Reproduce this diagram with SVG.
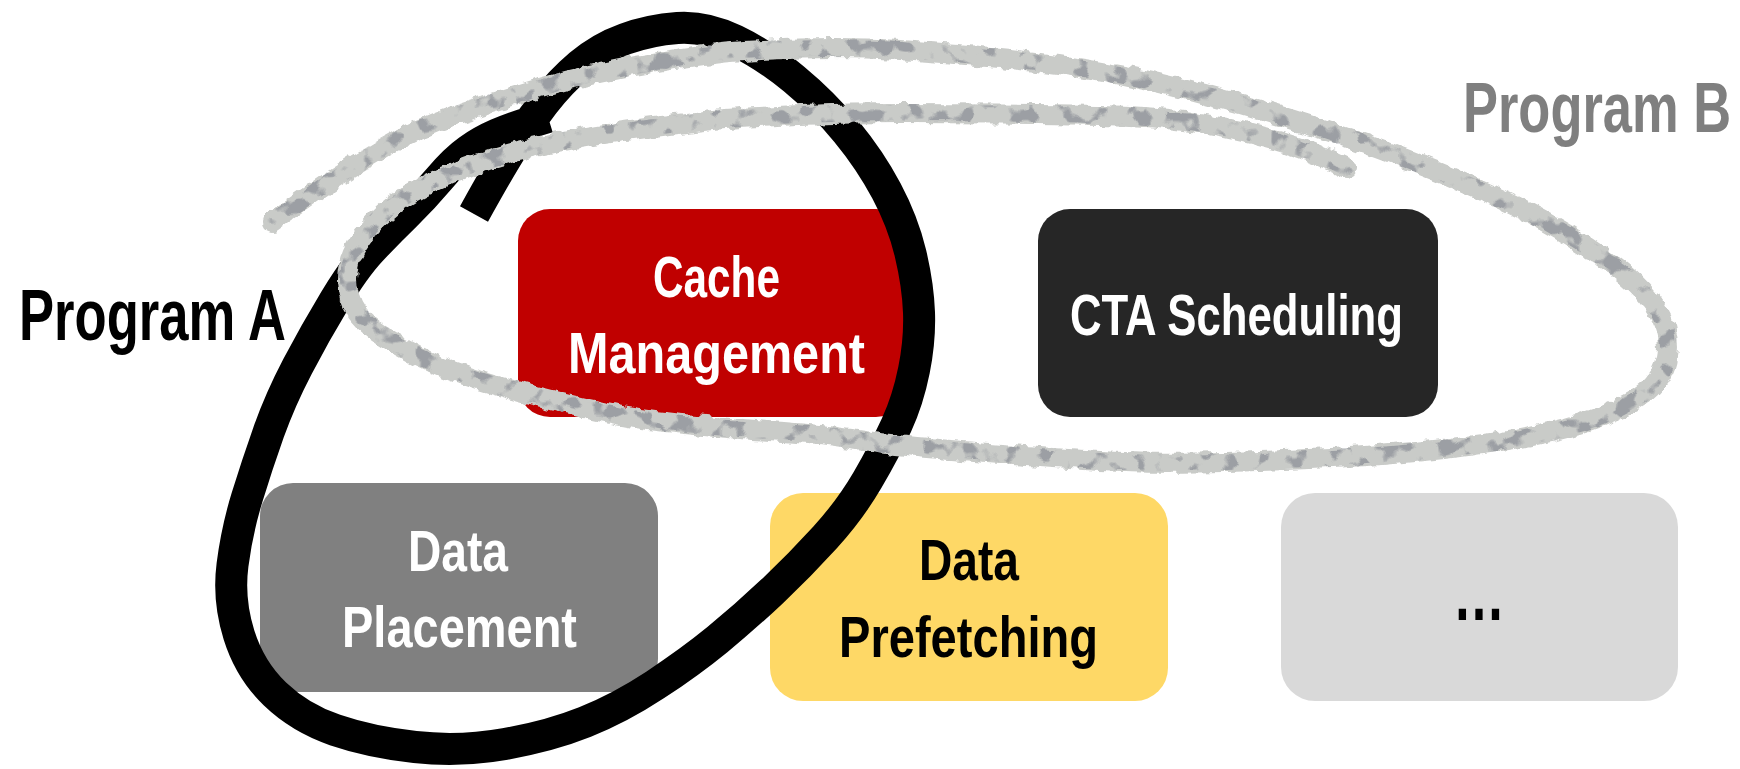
<svg xmlns="http://www.w3.org/2000/svg" width="1740" height="769" viewBox="0 0 1740 769">
<style>
.lbl{font-family:"Liberation Sans",Arial,sans-serif;font-weight:bold;}
.box{font-size:58px;}
.w{fill:#ffffff;}
.k{fill:#000000;}
</style>
<defs>
<filter id="rough" x="-5%" y="-10%" width="110%" height="120%">
<feTurbulence type="fractalNoise" baseFrequency="0.1" numOctaves="2" seed="3" result="n"/>
<feDisplacementMap in="SourceGraphic" in2="n" scale="8" xChannelSelector="R" yChannelSelector="G"/>
</filter>
<filter id="mottle" x="-5%" y="-10%" width="110%" height="120%">
<feTurbulence type="fractalNoise" baseFrequency="0.055" numOctaves="2" seed="11" result="n"/>
<feColorMatrix in="n" type="matrix" values="0 0 0 0 0  0 0 0 0 0  0 0 0 0 0  9 0 0 0 -4.8" result="m"/>
<feComposite in="SourceGraphic" in2="m" operator="in" result="c"/>
<feTurbulence type="fractalNoise" baseFrequency="0.13" numOctaves="1" seed="5" result="n2"/>
<feDisplacementMap in="c" in2="n2" scale="7" xChannelSelector="R" yChannelSelector="G"/>
</filter>
<path id="gpath" d="M272,222 Q310,195 330,181.5 Q350,168 383.5,148 Q417,128 458.5,114 Q500,100 533.5,90 Q567,80 600,73 Q633,66 666.5,60.5 Q700,55 725,52.5 Q750,50 800,48.5 Q850,47 900,50 Q950,53 1000,58 Q1050,63 1100,71.5 Q1150,80 1206.5,95 Q1263,110 1320,128.5 Q1377,147 1433.5,170 Q1490,193 1528,212.5 Q1566,232 1604,258.5 Q1642,285 1657,310 Q1672,335 1666.5,360 Q1661,385 1632.5,401.5 Q1604,418 1566,428 Q1528,438 1471.5,445.5 Q1415,453 1358,456.5 Q1301,460 1225.5,462 Q1150,464 1100,461 Q1050,458 1000,454 Q950,450 916.5,447 Q883,444 850,439 Q817,434 783.5,432 Q750,430 700,425.5 Q650,421 625,416.5 Q600,412 558.5,402 Q517,392 475,379 Q433,366 400,346.5 Q367,327 357,312.5 Q347,298 347,280 Q347,262 357,245 Q367,228 383.5,213 Q400,198 425,185.5 Q450,173 483.5,161.5 Q517,150 558.5,142 Q600,134 650,127.5 Q700,121 725,119 Q750,117 800,115 Q850,113 900,113 Q950,113 1000,113.5 Q1050,114 1100,115 Q1150,116 1188,121.5 Q1226,127 1263.5,137 Q1301,147 1324,157.5 L1347,168"/>
</defs>
<rect width="1740" height="769" fill="#ffffff"/>

<g id="node-cache">
<rect x="518" y="209" width="390" height="208" rx="32" fill="#C00000"/>
<text class="lbl box w" x="653" y="297" textLength="127" lengthAdjust="spacingAndGlyphs">Cache</text>
<text class="lbl box w" x="568" y="373" textLength="297" lengthAdjust="spacingAndGlyphs">Management</text>
</g>
<g id="node-cta">
<rect x="1038" y="209" width="400" height="208" rx="32" fill="#262626"/>
<text class="lbl box w" x="1070" y="335" textLength="333" lengthAdjust="spacingAndGlyphs">CTA Scheduling</text>
</g>
<g id="node-placement">
<rect x="260" y="483" width="398" height="209" rx="33" fill="#808080"/>
<text class="lbl box w" x="408" y="571" textLength="100" lengthAdjust="spacingAndGlyphs">Data</text>
<text class="lbl box w" x="342" y="647" textLength="235" lengthAdjust="spacingAndGlyphs">Placement</text>
</g>
<g id="node-prefetch">
<rect x="770" y="493" width="398" height="208" rx="33" fill="#FED866"/>
<text class="lbl box k" x="919" y="580" textLength="100" lengthAdjust="spacingAndGlyphs">Data</text>
<text class="lbl box k" x="839" y="657" textLength="259" lengthAdjust="spacingAndGlyphs">Prefetching</text>
</g>
<g id="node-more">
<rect x="1281" y="493" width="397" height="208" rx="34" fill="#D9D9D9"/>
<text class="lbl k" x="1453" y="620" font-size="76" textLength="52" lengthAdjust="spacingAndGlyphs">…</text>
</g>

<g id="connectors">
<path id="program-a-loop" d="M474,214 Q500,167 513.5,146 Q527,125 543.5,103.5 Q560,82 580,65 Q600,48 625,39 Q650,30 677.5,28 Q705,26 735,40.5 Q765,55 794,79 Q823,103 846.5,131.5 Q870,160 886.5,191 Q903,222 910.5,253.5 Q918,285 919,312.5 Q920,340 914,370 Q908,400 896.5,425 Q885,450 867.5,480 Q850,510 825,537.5 Q800,565 772.5,591 Q745,617 717.5,639.5 Q690,662 655,685 Q620,708 585,722 Q550,736 505,744 Q460,752 415,747 Q370,742 335,730 Q300,718 275,694 Q250,670 239,635 Q228,600 232.5,565 Q237,530 247,497.5 Q257,465 268.5,432.5 Q280,400 297.5,366.5 Q315,333 335,300 Q355,267 371.5,249.5 Q388,232 405.5,215 Q423,198 439,179 Q455,160 468.5,150.5 Q482,141 497,134.5 Q512,128 530,122.5 L548,117" fill="none" stroke="#000000" stroke-width="32" stroke-linecap="butt" stroke-linejoin="round"/>
<g id="program-b-loop" fill="none" stroke-linecap="round" stroke-linejoin="round">
<use href="#gpath" stroke="#C9CBC8" stroke-width="20" filter="url(#rough)"/>
<use href="#gpath" stroke="#9C9FA4" stroke-width="16" filter="url(#mottle)"/>
</g>
</g>

<g id="label-a">
<text class="lbl k" x="19" y="340" font-size="72" textLength="267" lengthAdjust="spacingAndGlyphs">Program A</text>
</g>
<g id="label-b">
<text class="lbl" x="1731" y="132" font-size="70" fill="#7F7F7F" text-anchor="end" textLength="268" lengthAdjust="spacingAndGlyphs">Program B</text>
</g>
</svg>
